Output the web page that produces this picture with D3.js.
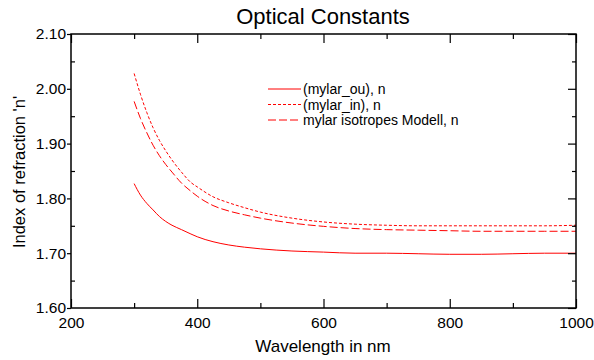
<!DOCTYPE html>
<html><head><meta charset="utf-8">
<script src="https://cdn.jsdelivr.net/npm/d3@7"></script>
<style>body{margin:0;background:#fff}svg{display:block}text{font-family:"Liberation Sans",Arial,sans-serif;fill:#000}</style>
</head><body><svg id="c" width="594" height="360"></svg>
<script>
const wavelengths = [300,310,320,330,340,350,360,375,390,400,425,450,475,500,550,600,650,700,750,800,850,900,950,1000];
const mylarOu  = [1.827,1.806,1.791,1.779,1.767,1.758,1.751,1.743,1.735,1.730,1.721,1.715,1.711,1.708,1.704,1.702,1.700,1.700,1.699,1.698,1.698,1.699,1.700,1.700];
const mylarIn  = [2.028,1.990,1.957,1.929,1.906,1.887,1.870,1.848,1.829,1.821,1.803,1.792,1.783,1.775,1.764,1.757,1.753,1.751,1.750,1.750,1.750,1.750,1.750,1.751];
const mylarIso = [1.977,1.946,1.920,1.897,1.878,1.862,1.848,1.828,1.813,1.804,1.787,1.777,1.770,1.764,1.755,1.749,1.745,1.743,1.742,1.741,1.740,1.740,1.740,1.740];
const seriesNames = ["(mylar_ou), n","(mylar_in), n","mylar isotropes Modell, n"];
const xTicks = [200,400,600,800,1000];
const yTicks = [1.60,1.70,1.80,1.90,2.00,2.10];
const title = "Optical Constants", xLabel = "Wavelength in nm", yLabel = "Index of refraction 'n'";

const svg = d3.select("#c");
const L=71,R=576,T=34,B=308;
const x = d3.scaleLinear().domain([200,1000]).range([L,R]);
const y = d3.scaleLinear().domain([1.60,2.10]).range([B,T]);

const series = [
  {name:seriesNames[0], vals:mylarOu, dash:null},
  {name:seriesNames[1], vals:mylarIn, dash:"3,2"},
  {name:seriesNames[2], vals:mylarIso, dash:"8,3"}
];
const line = d3.line().x(d=>x(d[0])).y(d=>y(d[1])).curve(d3.curveMonotoneX);
const g = svg.append("g");
series.forEach(s=>{
  g.append("path").datum(wavelengths.map((w,i)=>[w,s.vals[i]]))
   .attr("d",line).attr("fill","none").attr("stroke","#ff0000").attr("stroke-width",1)
   .attr("stroke-dasharray",s.dash);
});

// axes
const fmtY = d3.format(".2f");
const minorX = d3.range(300,1000,200);
const minorY = d3.range(1.65,2.10,0.1);
svg.append("g").attr("transform",`translate(0,${B})`)
  .call(d3.axisBottom(x).tickValues(xTicks).tickSize(-9).tickPadding(9).tickFormat(d3.format("d")));
svg.append("g").attr("transform",`translate(0,${B})`).call(d3.axisBottom(x).tickValues(minorX).tickSize(-5).tickFormat(""));
svg.append("g").attr("transform",`translate(0,${T})`).call(d3.axisTop(x).tickValues(xTicks).tickSize(-9).tickFormat(""));
svg.append("g").attr("transform",`translate(0,${T})`).call(d3.axisTop(x).tickValues(minorX).tickSize(-5).tickFormat(""));
svg.append("g").attr("transform",`translate(${L},0)`)
  .call(d3.axisLeft(y).tickValues(yTicks).tickSize(4).tickPadding(1).tickFormat(fmtY));
svg.append("g").attr("transform",`translate(${L},0)`).call(d3.axisLeft(y).tickValues(minorY).tickSize(-4).tickFormat(""));
svg.append("g").attr("transform",`translate(${R},0)`).call(d3.axisRight(y).tickValues(yTicks).tickSize(-8).tickFormat(""));
svg.append("g").attr("transform",`translate(${R},0)`).call(d3.axisRight(y).tickValues(minorY).tickSize(-4).tickFormat(""));
svg.selectAll(".domain").remove();
svg.selectAll(".tick line").attr("stroke","#000").attr("stroke-width",1.2);
svg.selectAll(".tick text").attr("font-size",15.5).attr("font-family","Liberation Sans, Arial, sans-serif");
svg.append("rect").attr("x",L).attr("y",T).attr("width",R-L).attr("height",B-T)
  .attr("fill","none").attr("stroke","#000").attr("stroke-width",1.5);

svg.append("text").attr("x",323).attr("y",24).attr("text-anchor","middle").attr("font-size",22).text(title);
svg.append("text").attr("x",323).attr("y",352).attr("text-anchor","middle").attr("font-size",17).text(xLabel);
svg.append("text").attr("transform","translate(25,172) rotate(-90)").attr("text-anchor","middle").attr("font-size",16.5).text(yLabel);

const leg = svg.append("g");
series.forEach((s,i)=>{
  const yy = 89 + i*15.5;
  leg.append("line").attr("x1",268).attr("x2",301).attr("y1",yy).attr("y2",yy)
    .attr("stroke","#ff0000").attr("stroke-width",1).attr("stroke-dasharray",s.dash);
  leg.append("text").attr("x",303).attr("y",yy+5).attr("font-size",14).text(s.name);
});
</script></body></html>
